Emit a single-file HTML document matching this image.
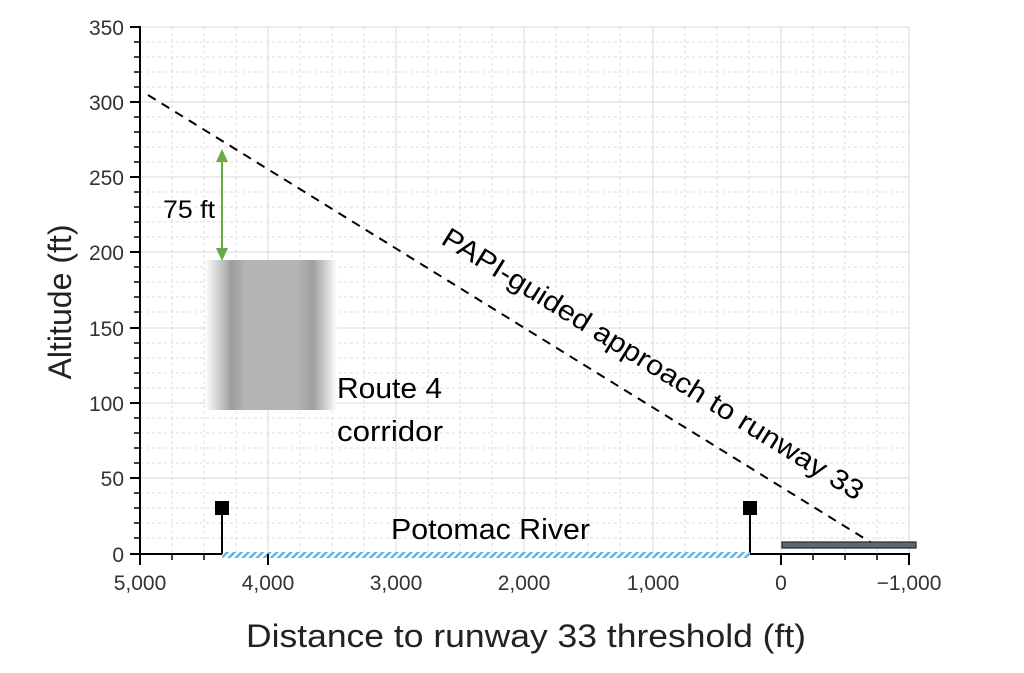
<!DOCTYPE html>
<html><head><meta charset="utf-8"><style>html,body{margin:0;padding:0;background:#fff}svg{display:block}</style></head>
<body>
<svg width="1024" height="673" viewBox="0 0 1024 673" xmlns="http://www.w3.org/2000/svg" font-family="Liberation Sans, sans-serif">
<defs>
<pattern id="hatch" width="5" height="5" patternUnits="userSpaceOnUse" patternTransform="rotate(45)">
<rect width="2.5" height="5" fill="#5bb8e0"/>
</pattern>
<linearGradient id="g" x1="0" x2="1" y1="0" y2="0">
<stop offset="0" stop-color="#fff"/>
<stop offset="0.12" stop-color="#c8c8c8"/>
<stop offset="0.2" stop-color="#9c9c9c"/>
<stop offset="0.3" stop-color="#b4b4b4"/>
<stop offset="0.7" stop-color="#b4b4b4"/>
<stop offset="0.82" stop-color="#9e9e9e"/>
<stop offset="1" stop-color="#fff"/>
</linearGradient>
</defs>
<g id="grid">
<g stroke="#dcdcdc" stroke-width="1" stroke-dasharray="3,3">
<line x1="140" x2="909" y1="42" y2="42"/><line x1="140" x2="909" y1="57" y2="57"/><line x1="140" x2="909" y1="72" y2="72"/><line x1="140" x2="909" y1="87" y2="87"/>
<line x1="140" x2="909" y1="117" y2="117"/><line x1="140" x2="909" y1="132" y2="132"/><line x1="140" x2="909" y1="147" y2="147"/><line x1="140" x2="909" y1="162" y2="162"/>
<line x1="140" x2="909" y1="192" y2="192"/><line x1="140" x2="909" y1="207" y2="207"/><line x1="140" x2="909" y1="222" y2="222"/><line x1="140" x2="909" y1="237" y2="237"/>
<line x1="140" x2="909" y1="267" y2="267"/><line x1="140" x2="909" y1="282" y2="282"/><line x1="140" x2="909" y1="297" y2="297"/><line x1="140" x2="909" y1="312" y2="312"/>
<line x1="140" x2="909" y1="343" y2="343"/><line x1="140" x2="909" y1="358" y2="358"/><line x1="140" x2="909" y1="373" y2="373"/><line x1="140" x2="909" y1="388" y2="388"/>
<line x1="140" x2="909" y1="418" y2="418"/><line x1="140" x2="909" y1="433" y2="433"/><line x1="140" x2="909" y1="448" y2="448"/><line x1="140" x2="909" y1="463" y2="463"/>
<line x1="140" x2="909" y1="493" y2="493"/><line x1="140" x2="909" y1="508" y2="508"/><line x1="140" x2="909" y1="523" y2="523"/><line x1="140" x2="909" y1="538" y2="538"/>
<line y1="27" y2="554" x1="172" x2="172"/><line y1="27" y2="554" x1="204" x2="204"/><line y1="27" y2="554" x1="236" x2="236"/>
<line y1="27" y2="554" x1="300" x2="300"/><line y1="27" y2="554" x1="332" x2="332"/><line y1="27" y2="554" x1="364" x2="364"/>
<line y1="27" y2="554" x1="428" x2="428"/><line y1="27" y2="554" x1="460" x2="460"/><line y1="27" y2="554" x1="492" x2="492"/>
<line y1="27" y2="554" x1="556" x2="556"/><line y1="27" y2="554" x1="588" x2="588"/><line y1="27" y2="554" x1="620" x2="620"/>
<line y1="27" y2="554" x1="685" x2="685"/><line y1="27" y2="554" x1="717" x2="717"/><line y1="27" y2="554" x1="749" x2="749"/>
<line y1="27" y2="554" x1="813" x2="813"/><line y1="27" y2="554" x1="845" x2="845"/><line y1="27" y2="554" x1="877" x2="877"/>
</g>
<g stroke="#d8d8d8" stroke-width="1">
<line x1="140" x2="909" y1="27" y2="27"/><line x1="140" x2="909" y1="102" y2="102"/><line x1="140" x2="909" y1="177" y2="177"/><line x1="140" x2="909" y1="252" y2="252"/><line x1="140" x2="909" y1="328" y2="328"/><line x1="140" x2="909" y1="403" y2="403"/><line x1="140" x2="909" y1="478" y2="478"/>
<line y1="27" y2="554" x1="268" x2="268"/><line y1="27" y2="554" x1="396" x2="396"/><line y1="27" y2="554" x1="524" x2="524"/><line y1="27" y2="554" x1="653" x2="653"/><line y1="27" y2="554" x1="781" x2="781"/><line y1="27" y2="554" x1="909" x2="909"/>
</g>
</g>
<rect x="205" y="260" width="132" height="150" fill="url(#g)"/>
<line x1="148" y1="95" x2="875" y2="545" stroke="#000" stroke-width="2" stroke-dasharray="9,7"/>
<text transform="translate(648,372) rotate(31.8)" text-anchor="middle" font-size="28" textLength="490" lengthAdjust="spacingAndGlyphs">PAPI-guided approach to runway 33</text>
<line x1="222" y1="160" x2="222" y2="250" stroke="#6aaa45" stroke-width="2"/>
<polygon points="222,149 216,162 228,162" fill="#6aaa45"/>
<polygon points="222,261 216,248 228,248" fill="#6aaa45"/>
<text x="163" y="218" font-size="25" textLength="52" lengthAdjust="spacingAndGlyphs">75 ft</text>
<text x="337" y="398" font-size="29" textLength="105" lengthAdjust="spacingAndGlyphs">Route 4</text>
<text x="337" y="441" font-size="29" textLength="106" lengthAdjust="spacingAndGlyphs">corridor</text>
<text x="391" y="539" font-size="29" textLength="199" lengthAdjust="spacingAndGlyphs">Potomac River</text>
<rect x="782" y="542" width="134" height="6" fill="#5d6772" stroke="#1f2a33" stroke-width="1.2"/>
<g stroke="#000" stroke-width="2">
<line x1="140" y1="26" x2="140" y2="555"/>
<line x1="139" y1="554" x2="222" y2="554"/>
<line x1="750" y1="554" x2="910" y2="554"/>
<line x1="222" y1="514" x2="222" y2="554"/>
<line x1="750" y1="514" x2="750" y2="554"/>
</g>
<rect x="222" y="552" width="528" height="6" fill="url(#hatch)"/>
<rect x="215" y="501" width="14" height="14" fill="#000"/>
<rect x="743" y="501" width="14" height="14" fill="#000"/>
<g stroke="#000" stroke-width="2">
<line x1="130" x2="140" y1="27" y2="27"/><line x1="130" x2="140" y1="102" y2="102"/><line x1="130" x2="140" y1="177" y2="177"/><line x1="130" x2="140" y1="252" y2="252"/><line x1="130" x2="140" y1="328" y2="328"/><line x1="130" x2="140" y1="403" y2="403"/><line x1="130" x2="140" y1="478" y2="478"/><line x1="130" x2="140" y1="554" y2="554"/>
<line x1="140" x2="140" y1="554" y2="565"/><line x1="268" x2="268" y1="554" y2="565"/><line x1="781" x2="781" y1="554" y2="565"/><line x1="909" x2="909" y1="554" y2="565"/>
</g>
<g stroke="#000" stroke-width="1.5">
<line x1="134" x2="140" y1="42" y2="42"/><line x1="134" x2="140" y1="57" y2="57"/><line x1="134" x2="140" y1="72" y2="72"/><line x1="134" x2="140" y1="87" y2="87"/>
<line x1="134" x2="140" y1="117" y2="117"/><line x1="134" x2="140" y1="132" y2="132"/><line x1="134" x2="140" y1="147" y2="147"/><line x1="134" x2="140" y1="162" y2="162"/>
<line x1="134" x2="140" y1="192" y2="192"/><line x1="134" x2="140" y1="207" y2="207"/><line x1="134" x2="140" y1="222" y2="222"/><line x1="134" x2="140" y1="237" y2="237"/>
<line x1="134" x2="140" y1="267" y2="267"/><line x1="134" x2="140" y1="282" y2="282"/><line x1="134" x2="140" y1="297" y2="297"/><line x1="134" x2="140" y1="312" y2="312"/>
<line x1="134" x2="140" y1="343" y2="343"/><line x1="134" x2="140" y1="358" y2="358"/><line x1="134" x2="140" y1="373" y2="373"/><line x1="134" x2="140" y1="388" y2="388"/>
<line x1="134" x2="140" y1="418" y2="418"/><line x1="134" x2="140" y1="433" y2="433"/><line x1="134" x2="140" y1="448" y2="448"/><line x1="134" x2="140" y1="463" y2="463"/>
<line x1="134" x2="140" y1="493" y2="493"/><line x1="134" x2="140" y1="508" y2="508"/><line x1="134" x2="140" y1="523" y2="523"/><line x1="134" x2="140" y1="538" y2="538"/>
<line x1="172" x2="172" y1="554" y2="560"/><line x1="204" x2="204" y1="554" y2="560"/>
<line x1="813" x2="813" y1="554" y2="560"/><line x1="845" x2="845" y1="554" y2="560"/><line x1="877" x2="877" y1="554" y2="560"/>
</g>
<g font-size="21" fill="#333" text-anchor="end">
<text x="124" y="35">350</text><text x="124" y="110">300</text><text x="124" y="185">250</text><text x="124" y="260">200</text><text x="124" y="336">150</text><text x="124" y="411">100</text><text x="124" y="486">50</text><text x="124" y="562">0</text>
</g>
<g font-size="21" fill="#333" text-anchor="middle">
<text x="140" y="590">5,000</text><text x="268" y="590">4,000</text><text x="396" y="590">3,000</text><text x="524" y="590">2,000</text><text x="653" y="590">1,000</text><text x="781" y="590">0</text><text x="909" y="590">−1,000</text>
</g>
<text x="526" y="647" font-size="32" text-anchor="middle" fill="#222" textLength="560" lengthAdjust="spacingAndGlyphs">Distance to runway 33 threshold (ft)</text>
<text transform="translate(71,302) rotate(-90)" font-size="32" text-anchor="middle" fill="#222" textLength="155" lengthAdjust="spacingAndGlyphs">Altitude (ft)</text>
</svg>
</body></html>
